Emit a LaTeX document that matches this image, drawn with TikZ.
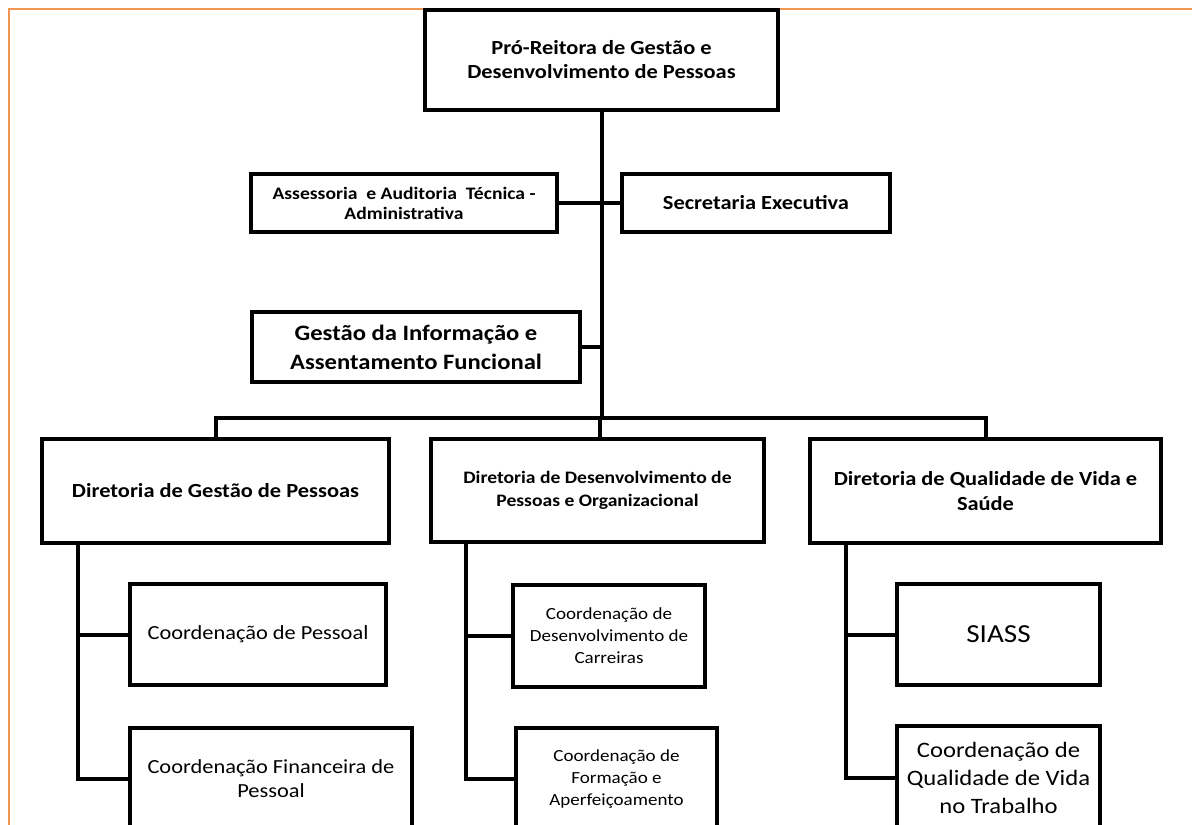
\documentclass[tikz,border=0pt]{standalone}
\usepackage{fontspec}
\setmainfont[FakeStretch=1.12]{Carlito}
\usepackage{tikz}
\definecolor{framecol}{RGB}{240,150,80}

\begin{document}
\begin{tikzpicture}[x=1pt, y=-1pt,
    box/.style={draw, line width=4pt, inner sep=0pt, align=center, fill=white},
    link/.style={line width=4pt},
    bigb/.style={font=\fontsize{20}{24}\selectfont\bfseries},
    smallb/.style={font=\fontsize{17.5}{23}\selectfont\bfseries},
    reg/.style={font=\fontsize{20}{24}\selectfont},
    smallr/.style={font=\fontsize{17}{22}\selectfont}]
    \useasboundingbox (0,0) rectangle (1192,825);
    \clip (0,0) rectangle (1192,825);
    % Frame
    \draw [framecol, line width=2pt] (9,840) -- (9,9) -- (1200,9);
    % Joints
    \coordinate (bus) at (600,418);
    \coordinate (gpA) at (78,543);
    \coordinate (dpA) at (466,542);
    \coordinate (qvA) at (846,543);
    % Top
    \node [box, bigb, minimum width=353, minimum height=100] (prg) at (601.5,60)
      {Pró-Reitora de Gestão e\\Desenvolvimento de Pessoas};
    % Staff boxes
    \node [box, font=\fontsize{17.5}{20}\selectfont\bfseries, minimum width=306, minimum height=58] (aud) at (404,203)
      {Assessoria\ \ e Auditoria\ \ Técnica -\\Administrativa};
    \node [box, bigb, minimum width=268, minimum height=58] (sec) at (756,203)
      {Secretaria Executiva};
    \node [box, font=\fontsize{22}{29}\selectfont\bfseries, minimum width=328, minimum height=70] (gia) at (416,347)
      {Gestão da Informação e\\Assentamento Funcional};
    % Directorates
    \node [box, bigb, minimum width=347, minimum height=104] (dgp) at (215.5,491)
      {Diretoria de Gestão de Pessoas};
    \node [box, smallb, minimum width=333, minimum height=103] (ddp) at (597.5,490.5)
      {Diretoria de Desenvolvimento de\\Pessoas e Organizacional};
    \node [box, font=\fontsize{20}{25}\selectfont\bfseries, minimum width=351, minimum height=104] (dqv) at (985.5,491)
      {Diretoria de Qualidade de Vida e\\Saúde};
    % Coordinations
    \node [box, reg, minimum width=256, minimum height=101] (cp) at (258,634.5)
      {Coordenação de Pessoal};
    \node [box, reg, minimum width=282, minimum height=102] (cfp) at (271,779)
      {Coordenação Financeira de\\Pessoal};
    \node [box, smallr, minimum width=192, minimum height=102] (cdc) at (609,636)
      {Coordenação de\\Desenvolvimento de\\Carreiras};
    \node [box, smallr, minimum width=201, minimum height=102] (cfa) at (616.5,779)
      {Coordenação de\\Formação e\\Aperfeiçoamento};
    \node [box, font=\fontsize{26}{30}\selectfont, minimum width=203, minimum height=101] (sia) at (998.5,634.5)
      {SIASS};
    \node [box, font=\fontsize{22}{28}\selectfont, minimum width=203, minimum height=104] (cqv) at (998.5,778)
      {Coordenação de\\Qualidade de Vida\\no Trabalho};
    % Trunk
    \draw [link] (prg.south) -- (prg.south |- bus);
    \draw [link] (aud.east) -- (sec.west);
    \draw [link] (gia.east) -- (gia.east -| bus);
    \draw [link] (dgp.north) -- (dgp.north |- bus) -- (dqv.north |- bus) -- (dqv.north);
    \draw [link] (bus) -- (bus |- ddp.north);
    % Branches
    \draw [link] (gpA) |- (cp.west);
    \draw [link] (gpA) |- (cfp.west);
    \draw [link] (dpA) |- (cdc.west);
    \draw [link] (dpA) |- (cfa.west);
    \draw [link] (qvA) |- (sia.west);
    \draw [link] (qvA) |- (cqv.west);
\end{tikzpicture}
\end{document}
